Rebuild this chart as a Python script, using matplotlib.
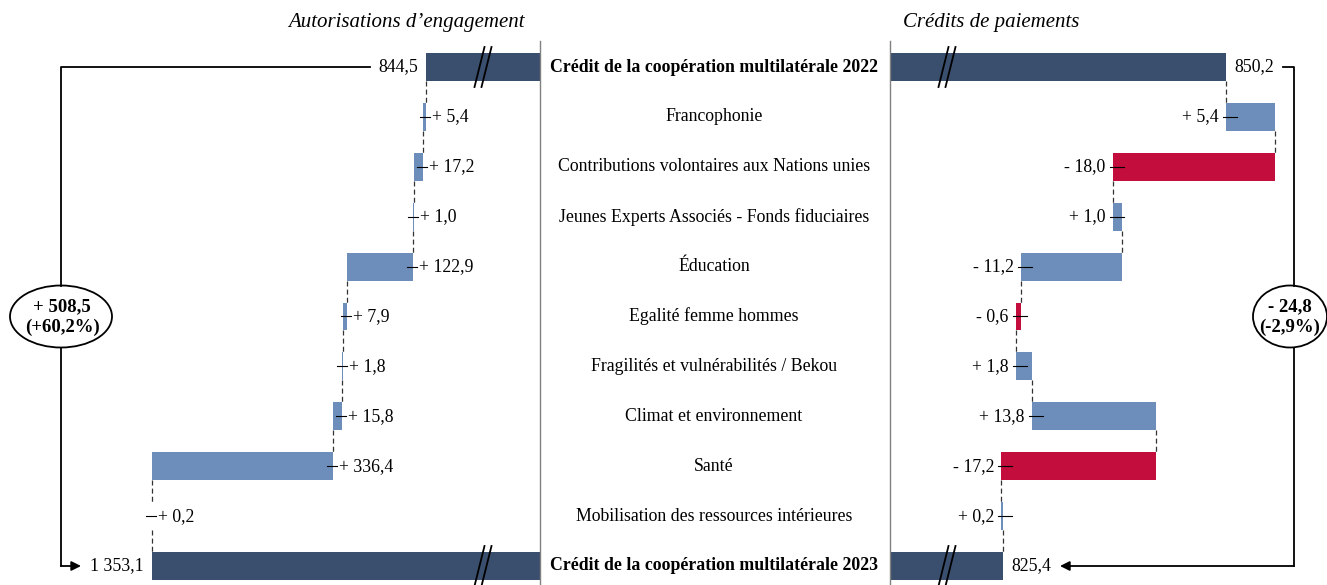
import matplotlib.pyplot as plt
from matplotlib.patches import Ellipse

plt.rcParams['font.family'] = ['Liberation Serif', 'DejaVu Serif']

# --- data -------------------------------------------------------------
categories = [
    "Crédit de la coopération multilatérale 2022",
    "Francophonie",
    "Contributions volontaires aux Nations unies",
    "Jeunes Experts Associés - Fonds fiduciaires",
    "Éducation",
    "Egalité femme hommes",
    "Fragilités et vulnérabilités / Bekou",
    "Climat et environnement",
    "Santé",
    "Mobilisation des ressources intérieures",
    "Crédit de la coopération multilatérale 2023",
]

ae_start = 844.5
ae_changes = [5.4, 17.2, 1.0, 122.9, 7.9, 1.8, 15.8, 336.4, 0.2]
ae_end = 1353.1
ae_total = 508.5
ae_pct = 60.2

cp_start = 850.2
cp_changes = [5.4, -18.0, 1.0, -11.2, -0.6, 1.8, 13.8, -17.2, 0.2]
cp_end = 825.4
cp_total = -24.8
cp_pct = -2.9

# --- style ------------------------------------------------------------
NAVY = "#3a4e6d"
BLUE = "#6d8ebb"
RED = "#c20d3d"
ae_colors = [BLUE] * 9
cp_colors = [BLUE, RED, BLUE, BLUE, RED, BLUE, BLUE, RED, BLUE]

W, H = 1327, 585
ROW0, STEP = 67.0, 49.9
BAR_H = 0.56
FS = 12.8
DASH = dict(color="#333333", lw=0.9, ls=(0, (4, 2.5)))


def fmt(v, signed=True):
    s = f"{abs(v):,.1f}".replace(",", " ").replace(".", ",")
    if signed:
        s = ("+ " if v >= 0 else "- ") + s
    return s


def row_px(i):
    return ROW0 + STEP * i


fig = plt.figure(figsize=(W / 100, H / 100), dpi=100)
ylim = ((H - ROW0) / STEP, -ROW0 / STEP)

ax_l = fig.add_axes([0, 0, 540 / W, 1])
ax_l.set_xlim(1634.9, 632.9)
ax_r = fig.add_axes([890 / W, 0, (W - 890) / W, 1])
ax_r.set_xlim(812.83, 861.43)
for ax in (ax_l, ax_r):
    ax.set_ylim(*ylim)
    ax.axis("off")


def shift(ax, x, dpx):
    d = ax.transData.transform((x, 0))
    return ax.transData.inverted().transform((d[0] + dpx, d[1]))[0]


def draw_panel(ax, start, changes, end, colors, inward, tick_in, tick_out, gap):
    # inward: +1 if the labels sit to the right of the bar edge, -1 if left
    n = len(changes) + 2
    ha_in = "left" if inward > 0 else "right"
    ha_out = "right" if inward > 0 else "left"

    ax.barh(0, start, height=BAR_H, color=NAVY)
    ax.text(shift(ax, start, -8 * inward), 0, fmt(start, False),
            ha=ha_out, va="center", fontsize=FS)

    cum = start
    for i, (d, c) in enumerate(zip(changes, colors), start=1):
        ax.plot([cum, cum], [i - 1 + BAR_H / 2, i - BAR_H / 2], **DASH)
        ax.barh(i, d, left=cum, height=BAR_H, color=c)
        edge = min(cum, cum + d)
        ax.plot([shift(ax, edge, -tick_in * inward),
                 shift(ax, edge, tick_out * inward)],
                [i, i], color="black", lw=0.8)
        ax.text(shift(ax, edge, gap * inward), i, fmt(d),
                ha=ha_in, va="center", fontsize=FS)
        cum += d

    ax.plot([end, end], [n - 2 + BAR_H / 2, n - 1 - BAR_H / 2], **DASH)
    ax.barh(n - 1, end, height=BAR_H, color=NAVY)
    ax.text(shift(ax, end, -8 * inward), n - 1, fmt(end, False),
            ha=ha_out, va="center", fontsize=FS)


draw_panel(ax_l, ae_start, ae_changes, ae_end, ae_colors, +1, 6, 4, 6)
draw_panel(ax_r, cp_start, cp_changes, cp_end, cp_colors, -1, 11, 3, 7)

# --- overlay in pixel coordinates --------------------------------------
ov = fig.add_axes([0, 0, 1, 1])
ov.set_xlim(0, W)
ov.set_ylim(H, 0)
ov.axis("off")
ov.patch.set_alpha(0)

ov.text(406, 23, "Autorisations d’engagement", style="italic",
        ha="center", va="center", fontsize=15)
ov.text(991, 23, "Crédits de paiements", style="italic",
        ha="center", va="center", fontsize=15)

for x in (540, 890):
    ov.plot([x, x], [41, H], color="#808080", lw=1)

last = len(categories) - 1
for i, cat in enumerate(categories):
    bold = i in (0, last)
    ov.text(714, row_px(i), cat, ha="center", va="center", fontsize=FS,
            fontweight="bold" if bold else "normal")

# axis break marks
for xc in (483, 947):
    for i in (0, last):
        yc = row_px(i)
        for off in (-3.5, 3.5):
            ov.plot([xc + off - 5, xc + off + 5], [yc + 20, yc - 20],
                    color="black", lw=1.3)

# brackets + totals
y0, y1 = row_px(0), row_px(last)
ymid = row_px(5)
E_H = 62
ARROW = dict(arrowstyle="-|>", color="black", lw=1.3,
             mutation_scale=14, shrinkA=0, shrinkB=0)

ov.plot([370, 61, 61], [y0, y0, ymid - E_H / 2], color="black", lw=1.3)
ov.plot([61, 61], [ymid + E_H / 2, y1], color="black", lw=1.3)
ov.annotate("", xy=(81, y1), xytext=(61, y1), arrowprops=ARROW)
ov.add_patch(Ellipse((61, ymid), 102, E_H, facecolor="white",
                     edgecolor="black", lw=1.3))
ov.text(62, ymid + 1, f"{fmt(ae_total)}\n({ae_pct:+.1f}%)".replace(".", ","),
        ha="center", va="center", fontsize=13.5, fontweight="bold",
        linespacing=1.25)

ov.plot([1283, 1294, 1294], [y0, y0, ymid - E_H / 2], color="black", lw=1.3)
ov.plot([1294, 1294], [ymid + E_H / 2, y1], color="black", lw=1.3)
ov.annotate("", xy=(1060, y1), xytext=(1294, y1), arrowprops=ARROW)
ov.add_patch(Ellipse((1290, ymid), 74, E_H, facecolor="white",
                     edgecolor="black", lw=1.3))
ov.text(1290, ymid + 1, f"{fmt(cp_total)}\n({cp_pct:.1f}%)".replace(".", ","),
        ha="center", va="center", fontsize=13.5, fontweight="bold",
        linespacing=1.25)

fig.savefig("out.png", dpi=100)
